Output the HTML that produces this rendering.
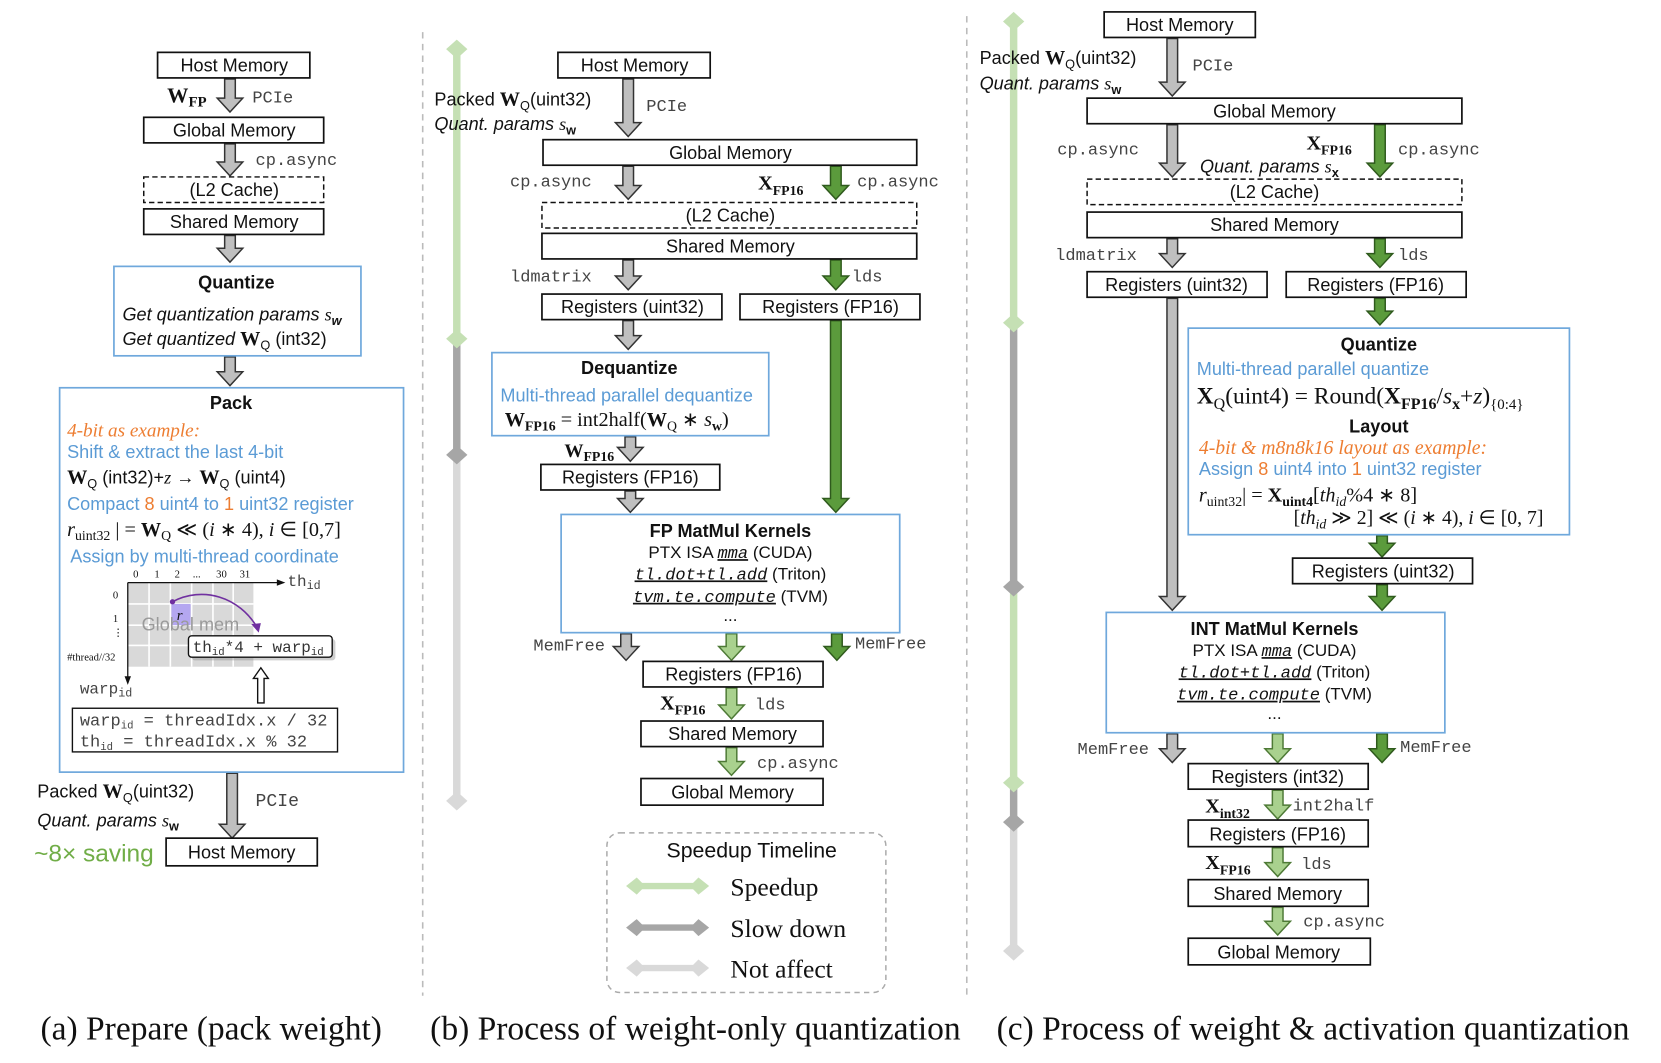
<!DOCTYPE html>
<html><head><meta charset="utf-8">
<style>
html,body{margin:0;padding:0;background:#fff;}
svg{display:block;font-size:17px;}
.b{fill:#fff;stroke:#111;stroke-width:1.6;}
.bd{fill:#fff;stroke:#111;stroke-width:1.4;stroke-dasharray:5,3;}
.bl{fill:#fff;stroke:#6fa8dc;stroke-width:1.6;}
.t{font-family:"Liberation Sans",sans-serif;fill:#111;text-anchor:middle;}
.m{font-family:"Liberation Mono",monospace;fill:#444;}
.m:not([font-size]){font-size:16px;}
.s{font-family:"Liberation Sans",sans-serif;fill:#111;}
.sr{font-family:"Liberation Serif",serif;fill:#111;}
.h{font-family:"Liberation Sans",sans-serif;font-weight:bold;fill:#111;text-anchor:middle;}
.blue{fill:#5b9bd5;}
.or{fill:#ed7d31;}
.cap{font-family:"Liberation Serif",serif;font-size:31.5px;fill:#111;}
</style></head><body>
<svg width="1661" height="1063" viewBox="0 0 1560 998" xmlns="http://www.w3.org/2000/svg">
<g id="arrows"></g>
<line x1="397" y1="30" x2="397" y2="935" stroke="#bbb" stroke-width="1.5" stroke-dasharray="6,5"/>
<line x1="908" y1="15" x2="908" y2="935" stroke="#bbb" stroke-width="1.5" stroke-dasharray="6,5"/>

<!-- ===== Panel A ===== -->
<rect class="b" x="148" y="49" width="143" height="24"/><text class="t" x="220" y="67">Host Memory</text>
<text class="sr" x="157" y="96" style="font-weight:bold;font-size:20px">W<tspan dy="4" font-size="14">FP</tspan></text>
<text class="m" x="237" y="96">PCIe</text>
<rect class="b" x="135" y="110" width="169" height="24"/><text class="t" x="220" y="128">Global Memory</text>
<text class="m" x="240" y="155">cp.async</text>
<rect class="bd" x="135" y="166" width="169" height="24"/><text class="t" x="220" y="184">(L2 Cache)</text>
<rect class="b" x="135" y="196" width="169" height="24"/><text class="t" x="220" y="214">Shared Memory</text>
<rect class="bl" x="107" y="250" width="232" height="84"/>
<text class="h" x="222" y="271">Quantize</text>
<text class="s" x="115" y="301" font-style="italic">Get quantization params <tspan font-family="Liberation Serif">s</tspan><tspan dy="4" font-size="12" font-weight="bold">w</tspan></text>
<text class="s" x="115" y="324"><tspan font-style="italic">Get quantized </tspan><tspan font-family="Liberation Serif" font-weight="bold" font-size="19">W</tspan><tspan dy="4" font-size="12">Q</tspan><tspan dy="-4"> (int32)</tspan></text>
<rect class="bl" x="56" y="364" width="323" height="361"/>
<text class="h" x="217" y="384">Pack</text>
<text class="sr or" x="63" y="410" font-style="italic" font-size="18">4-bit as example:</text>
<text class="s blue" x="63" y="430">Shift &amp; extract the last 4-bit</text>
<text class="s" x="63" y="454"><tspan font-family="Liberation Serif" font-weight="bold" font-size="19">W</tspan><tspan dy="4" font-size="12">Q</tspan><tspan dy="-4"> (int32)+</tspan><tspan font-family="Liberation Serif" font-style="italic">z</tspan> → <tspan font-family="Liberation Serif" font-weight="bold" font-size="19">W</tspan><tspan dy="4" font-size="12">Q</tspan><tspan dy="-4"> (uint4)</tspan></text>
<text class="s blue" x="63" y="479">Compact <tspan class="or">8</tspan> uint4 to <tspan class="or">1</tspan> uint32 register</text>
<text class="sr" x="63" y="503" font-size="19"><tspan font-style="italic">r</tspan><tspan dy="4" font-size="13">uint32</tspan><tspan dy="-4"> | = </tspan><tspan font-weight="bold">W</tspan><tspan dy="4" font-size="13">Q</tspan><tspan dy="-4"> ≪ (</tspan><tspan font-style="italic">i</tspan> ∗ 4), <tspan font-style="italic">i</tspan> ∈ [0,7]</text>
<text class="s blue" x="66" y="528">Assign by multi-thread coordinate</text>
<rect x="120" y="547" width="118" height="79" fill="#d9d9d9"/>
<g stroke="#fff" stroke-width="1.5">
<line x1="140" y1="547" x2="140" y2="626"/><line x1="160" y1="547" x2="160" y2="626"/><line x1="180" y1="547" x2="180" y2="626"/><line x1="200" y1="547" x2="200" y2="626"/><line x1="219" y1="547" x2="219" y2="626"/>
<line x1="120" y1="567" x2="238" y2="567"/><line x1="120" y1="587" x2="238" y2="587"/><line x1="120" y1="606" x2="238" y2="606"/>
</g>
<rect x="161" y="567" width="18" height="20" fill="#b4a7f0"/>
<text class="sr" x="166" y="582" font-style="italic" font-size="14">r</text>
<text class="s" x="133" y="592" style="fill:#9a9a9a">Global mem</text>
<line x1="120" y1="547" x2="262" y2="547" stroke="#111" stroke-width="1.2"/><polygon points="268,547 260,544 260,550" fill="#111"/>
<line x1="120" y1="547" x2="120" y2="637" stroke="#111" stroke-width="1.2"/><polygon points="120,643 117,635 123,635" fill="#111"/>
<g class="sr" font-size="10"><text x="125" y="542">0</text><text x="145" y="542">1</text><text x="164" y="542">2</text><text x="181" y="542">...</text><text x="203" y="542">30</text><text x="225" y="542">31</text>
<text x="106" y="562">0</text><text x="106" y="584">1</text><text x="106" y="597">⋮</text><text x="63" y="620">#thread//32</text></g>
<text class="m" x="270" y="550" font-size="15">th<tspan dy="3" font-size="11">id</tspan></text>
<text class="m" x="75" y="651" font-size="15">warp<tspan dy="3" font-size="11">id</tspan></text>
<circle cx="162" cy="565" r="2.5" fill="#7030a0"/>
<path d="M162,565 C190,550 225,560 242,590" fill="none" stroke="#7030a0" stroke-width="1.5"/>
<polygon points="243,594 236,586 245,585" fill="#7030a0"/>
<rect x="180" y="600" width="135" height="20" rx="3" fill="#888" opacity="0.4"/>
<rect x="177" y="597" width="135" height="20" rx="3" fill="#fff" stroke="#111" stroke-width="1.3"/>
<text class="m" x="181" y="612" font-size="15" style="fill:#333">th<tspan dy="3" font-size="10">id</tspan><tspan dy="-3">*4 + warp</tspan><tspan dy="3" font-size="10">id</tspan></text>
<path d="M242,660 V637 H238 L245,627 L252,637 H248 V660 Z" fill="#fff" stroke="#111" stroke-width="1.3"/>
<rect x="68" y="665" width="249" height="41" fill="#fff" stroke="#111" stroke-width="1.3"/>
<text class="m" x="75" y="681">warp<tspan dy="3" font-size="10">id</tspan><tspan dy="-3"> = threadIdx.x / 32</tspan></text>
<text class="m" x="75" y="701">th<tspan dy="3" font-size="10">id</tspan><tspan dy="-3"> = threadIdx.x % 32</tspan></text>
<text class="s" x="35" y="749">Packed <tspan font-family="Liberation Serif" font-weight="bold" font-size="19">W</tspan><tspan dy="4" font-size="12">Q</tspan><tspan dy="-4">(uint32)</tspan></text>
<text class="s" x="35" y="776" font-style="italic">Quant. params <tspan font-family="Liberation Serif">s</tspan><tspan dy="4" font-size="12" font-weight="bold" font-style="normal">w</tspan></text>
<text class="m" x="240" y="757" font-size="17">PCIe</text>
<text class="s" x="32" y="809" font-size="23" style="fill:#70ad47">~8× saving</text>
<rect class="b" x="156" y="787" width="142" height="26"/><text class="t" x="227" y="806">Host Memory</text>
<text class="cap" x="38" y="976">(a) Prepare (pack weight)</text>

<!-- ===== Panel B ===== -->
<line x1="429" y1="45" x2="429" y2="318" stroke="#c5e0b4" stroke-width="7"/>
<line x1="429" y1="318" x2="429" y2="427" stroke="#a6a6a6" stroke-width="7"/>
<line x1="429" y1="427" x2="429" y2="752" stroke="#d9d9d9" stroke-width="7"/>
<polygon points="429,37 439,46 429,55 419,46" fill="#c5e0b4"/>
<polygon points="429,309 439,318 429,327 419,318" fill="#c5e0b4"/>
<polygon points="429,418 439,427 429,436 419,427" fill="#a6a6a6"/>
<polygon points="429,743 439,752 429,761 419,752" fill="#d9d9d9"/>

<rect class="b" x="524" y="49" width="143" height="24"/><text class="t" x="596" y="67">Host Memory</text>
<text class="s" x="408" y="99">Packed <tspan font-family="Liberation Serif" font-weight="bold" font-size="19">W</tspan><tspan dy="4" font-size="12">Q</tspan><tspan dy="-4">(uint32)</tspan></text>
<text class="s" x="408" y="122" font-style="italic">Quant. params <tspan font-family="Liberation Serif">s</tspan><tspan dy="4" font-size="12" font-weight="bold" font-style="normal">w</tspan></text>
<text class="m" x="607" y="104">PCIe</text>
<rect class="b" x="510" y="131" width="351" height="24"/><text class="t" x="686" y="149">Global Memory</text>
<text class="m" x="479" y="175">cp.async</text>
<text class="sr" x="712" y="178" font-weight="bold" font-size="19">X<tspan dy="5" font-size="13">FP16</tspan></text>
<text class="m" x="805" y="175">cp.async</text>
<rect class="bd" x="509" y="190" width="352" height="24"/><text class="t" x="686" y="208">(L2 Cache)</text>
<rect class="b" x="509" y="219" width="352" height="24"/><text class="t" x="686" y="237">Shared Memory</text>
<text class="m" x="479" y="264">ldmatrix</text>
<text class="m" x="800" y="264">lds</text>
<rect class="b" x="509" y="276" width="169" height="24"/><text class="t" x="594" y="294">Registers (uint32)</text>
<rect class="b" x="695" y="276" width="169" height="24"/><text class="t" x="780" y="294">Registers (FP16)</text>
<rect class="bl" x="462" y="331" width="260" height="78"/>
<text class="h" x="591" y="351">Dequantize</text>
<text class="s blue" x="470" y="377">Multi-thread parallel dequantize</text>
<text class="sr" x="474" y="400" font-size="19"><tspan font-weight="bold">W</tspan><tspan dy="4" font-size="13" font-weight="bold">FP16</tspan><tspan dy="-4"> = int2half(</tspan><tspan font-weight="bold">W</tspan><tspan dy="4" font-size="13">Q</tspan><tspan dy="-4"> ∗ </tspan><tspan font-style="italic">s</tspan><tspan dy="4" font-size="13" font-weight="bold">w</tspan><tspan dy="-4">)</tspan></text>
<text class="sr" x="530" y="429" font-weight="bold" font-size="18">W<tspan dy="4" font-size="13">FP16</tspan></text>
<rect class="b" x="508" y="436" width="168" height="24"/><text class="t" x="592" y="454">Registers (FP16)</text>
<rect class="bl" x="527" y="483" width="318" height="111"/>
<text class="h" x="686" y="504">FP MatMul Kernels</text>
<text class="t" x="686" y="524" font-size="16">PTX ISA  <tspan font-family="Liberation Mono" font-style="italic" text-decoration="underline">mma</tspan> (CUDA)</text>
<text class="t" x="686" y="544" font-size="16"><tspan font-family="Liberation Mono" font-style="italic" text-decoration="underline">tl.dot+tl.add</tspan>  (Triton)</text>
<text class="t" x="686" y="565" font-size="16"><tspan font-family="Liberation Mono" font-style="italic" text-decoration="underline">tvm.te.compute</tspan> (TVM)</text>
<text class="t" x="686" y="583" font-size="16">...</text>
<text class="m" x="501" y="611">MemFree</text>
<text class="m" x="803" y="609">MemFree</text>
<rect class="b" x="604" y="621" width="169" height="24"/><text class="t" x="689" y="639">Registers (FP16)</text>
<text class="sr" x="620" y="666" font-weight="bold" font-size="19">X<tspan dy="5" font-size="13">FP16</tspan></text>
<text class="m" x="709" y="666">lds</text>
<rect class="b" x="602" y="677" width="171" height="24"/><text class="t" x="688" y="695">Shared Memory</text>
<text class="m" x="711" y="721">cp.async</text>
<rect class="b" x="602" y="731" width="171" height="25"/><text class="t" x="688" y="750">Global Memory</text>
<rect x="570" y="782" width="262" height="150" rx="12" fill="none" stroke="#aaa" stroke-width="1.4" stroke-dasharray="5,4"/>
<text class="t" x="706" y="805" font-size="20">Speedup Timeline</text>
<g>
<line x1="596" y1="832" x2="658" y2="832" stroke="#c5e0b4" stroke-width="6"/><polygon points="588,832 598,824 606,832 598,840" fill="#c5e0b4"/><polygon points="648,832 656,824 666,832 656,840" fill="#c5e0b4"/>
<line x1="596" y1="871" x2="658" y2="871" stroke="#a6a6a6" stroke-width="6"/><polygon points="588,871 598,863 606,871 598,879" fill="#a6a6a6"/><polygon points="648,871 656,863 666,871 656,879" fill="#a6a6a6"/>
<line x1="596" y1="909" x2="658" y2="909" stroke="#d9d9d9" stroke-width="6"/><polygon points="588,909 598,901 606,909 598,917" fill="#d9d9d9"/><polygon points="648,909 656,901 666,909 656,917" fill="#d9d9d9"/>
</g>
<text class="sr" x="686" y="841" font-size="24">Speedup</text>
<text class="sr" x="686" y="880" font-size="24">Slow down</text>
<text class="sr" x="686" y="918" font-size="24">Not affect</text>
<text class="cap" x="404" y="976">(b) Process of weight-only quantization</text>

<!-- ===== Panel C ===== -->
<line x1="952" y1="20" x2="952" y2="303" stroke="#c5e0b4" stroke-width="7"/>
<line x1="952" y1="303" x2="952" y2="551" stroke="#a6a6a6" stroke-width="7"/>
<line x1="952" y1="551" x2="952" y2="735" stroke="#c5e0b4" stroke-width="7"/>
<line x1="952" y1="735" x2="952" y2="772" stroke="#a6a6a6" stroke-width="7"/>
<line x1="952" y1="772" x2="952" y2="893" stroke="#d9d9d9" stroke-width="7"/>
<polygon points="952,11 962,20 952,29 942,20" fill="#c5e0b4"/>
<polygon points="952,294 962,303 952,312 942,303" fill="#c5e0b4"/>
<polygon points="952,542 962,551 952,560 942,551" fill="#a6a6a6"/>
<polygon points="952,726 962,735 952,744 942,735" fill="#c5e0b4"/>
<polygon points="952,763 962,772 952,781 942,772" fill="#a6a6a6"/>
<polygon points="952,884 962,893 952,902 942,893" fill="#d9d9d9"/>

<rect class="b" x="1037" y="11" width="142" height="24"/><text class="t" x="1108" y="29">Host Memory</text>
<text class="s" x="920" y="60">Packed <tspan font-family="Liberation Serif" font-weight="bold" font-size="19">W</tspan><tspan dy="4" font-size="12">Q</tspan><tspan dy="-4">(uint32)</tspan></text>
<text class="s" x="920" y="84" font-style="italic">Quant. params <tspan font-family="Liberation Serif">s</tspan><tspan dy="4" font-size="12" font-weight="bold" font-style="normal">w</tspan></text>
<text class="m" x="1120" y="66">PCIe</text>
<rect class="b" x="1021" y="92" width="352" height="24"/><text class="t" x="1197" y="110">Global Memory</text>
<text class="m" x="993" y="145">cp.async</text>
<text class="sr" x="1227" y="140" font-weight="bold" font-size="19">X<tspan dy="5" font-size="13">FP16</tspan></text>
<text class="s" x="1127" y="162" font-style="italic">Quant. params <tspan font-family="Liberation Serif">s</tspan><tspan dy="4" font-size="12" font-weight="bold" font-style="normal">x</tspan></text>
<text class="m" x="1313" y="145">cp.async</text>
<rect class="bd" x="1021" y="168" width="352" height="24"/><text class="t" x="1197" y="186">(L2 Cache)</text>
<rect class="b" x="1021" y="199" width="352" height="24"/><text class="t" x="1197" y="217">Shared Memory</text>
<text class="m" x="991" y="244">ldmatrix</text>
<text class="m" x="1313" y="244">lds</text>
<rect class="b" x="1021" y="255" width="169" height="24"/><text class="t" x="1105" y="273">Registers (uint32)</text>
<rect class="b" x="1208" y="255" width="169" height="24"/><text class="t" x="1292" y="273">Registers (FP16)</text>
<rect class="bl" x="1116" y="308" width="358" height="194"/>
<text class="h" x="1295" y="329">Quantize</text>
<text class="s blue" x="1124" y="352">Multi-thread parallel quantize</text>
<text class="sr" x="1124" y="379" font-size="22"><tspan font-weight="bold">X</tspan><tspan dy="5" font-size="15">Q</tspan><tspan dy="-5">(uint4) = Round(</tspan><tspan font-weight="bold">X</tspan><tspan dy="5" font-size="15" font-weight="bold">FP16</tspan><tspan dy="-5">/</tspan><tspan font-style="italic">s</tspan><tspan dy="5" font-size="15" font-weight="bold">x</tspan><tspan dy="-5">+</tspan><tspan font-style="italic">z</tspan>)<tspan dy="5" font-size="14">{0:4}</tspan></text>
<text class="h" x="1295" y="406">Layout</text>
<text class="sr or" x="1126" y="426" font-style="italic" font-size="18.5">4-bit &amp; m8n8k16 layout as example:</text>
<text class="s blue" x="1126" y="446">Assign <tspan class="or">8</tspan> uint4 into <tspan class="or">1</tspan> uint32 register</text>
<text class="sr" x="1126" y="471" font-size="19"><tspan font-style="italic">r</tspan><tspan dy="4" font-size="13">uint32</tspan><tspan dy="-4">| = </tspan><tspan font-weight="bold">X</tspan><tspan dy="4" font-size="13" font-weight="bold">uint4</tspan><tspan dy="-4">[</tspan><tspan font-style="italic">th</tspan><tspan dy="4" font-size="13" font-style="italic">id</tspan><tspan dy="-4">%4 ∗ 8]</tspan></text>
<text class="sr" x="1215" y="492" font-size="18.5">[<tspan font-style="italic">th</tspan><tspan dy="4" font-size="13" font-style="italic">id</tspan><tspan dy="-4"> ≫ 2] ≪ (</tspan><tspan font-style="italic">i</tspan> ∗ 4), <tspan font-style="italic">i</tspan> ∈ [0, 7]</text>
<rect class="b" x="1214" y="524" width="169" height="24"/><text class="t" x="1299" y="542">Registers (uint32)</text>
<rect class="bl" x="1039" y="575" width="318" height="113"/>
<text class="h" x="1197" y="596">INT MatMul Kernels</text>
<text class="t" x="1197" y="616" font-size="16">PTX ISA  <tspan font-family="Liberation Mono" font-style="italic" text-decoration="underline">mma</tspan> (CUDA)</text>
<text class="t" x="1197" y="636" font-size="16"><tspan font-family="Liberation Mono" font-style="italic" text-decoration="underline">tl.dot+tl.add</tspan>  (Triton)</text>
<text class="t" x="1197" y="657" font-size="16"><tspan font-family="Liberation Mono" font-style="italic" text-decoration="underline">tvm.te.compute</tspan> (TVM)</text>
<text class="t" x="1197" y="675" font-size="16">...</text>
<text class="m" x="1012" y="708">MemFree</text>
<text class="m" x="1315" y="706">MemFree</text>
<rect class="b" x="1116" y="717" width="169" height="24"/><text class="t" x="1200" y="735">Registers (int32)</text>
<text class="sr" x="1132" y="763" font-weight="bold" font-size="19">X<tspan dy="5" font-size="13">int32</tspan></text>
<text class="m" x="1214" y="761">int2half</text>
<rect class="b" x="1116" y="770" width="169" height="25"/><text class="t" x="1200" y="789">Registers (FP16)</text>
<text class="sr" x="1132" y="816" font-weight="bold" font-size="19">X<tspan dy="5" font-size="13">FP16</tspan></text>
<text class="m" x="1222" y="816">lds</text>
<rect class="b" x="1116" y="826" width="169" height="25"/><text class="t" x="1200" y="845">Shared Memory</text>
<text class="m" x="1224" y="870">cp.async</text>
<rect class="b" x="1116" y="881" width="171" height="25"/><text class="t" x="1201" y="900">Global Memory</text>
<text class="cap" x="936" y="976">(c) Process of weight &amp; activation quantization</text>
</svg>
<script>
var A=[
[216,74,105,'g'],[216,135,165,'g'],[216,221,246,'g'],[216,335,362,'g'],[218,726,787,'g'],
[590,74,128,'g'],[590,156,187,'g'],[785,156,187,'d'],[590,244,272,'g'],[785,244,272,'d'],
[590,301,328,'g'],[785,301,481,'d'],[592,410,433,'g'],[592,461,481,'g'],
[588,595,620,'g'],[687,595,620,'l'],[786,595,620,'d'],[687,646,675,'l'],[687,702,728,'l'],
[1101,36,90,'g'],[1101,117,166,'g'],[1296,117,166,'d'],[1101,224,251,'g'],[1296,224,251,'d'],
[1296,280,305,'d'],[1101,280,573,'g'],[1298,503,523,'d'],[1298,549,573,'d'],
[1101,689,716,'g'],[1200,689,716,'l'],[1298,689,716,'d'],[1200,742,769,'l'],[1200,796,823,'l'],[1200,852,878,'l']
];
var C={g:['#bfbfbf','#333'],d:['#5b9b3c','#2f5a1d'],l:['#a9d18e','#4e7a36']};
var s='';
A.forEach(function(a){var x=a[0],y1=a[1],y2=a[2],c=C[a[3]],h=y2-13;
s+='<path d="M'+(x-5)+','+y1+' V'+h+' H'+(x-12)+' L'+x+','+y2+' L'+(x+12)+','+h+' H'+(x+5)+' V'+y1+' Z" fill="'+c[0]+'" stroke="'+c[1]+'" stroke-width="1.4"/>';});
document.getElementById('arrows').innerHTML=s;
</script>
</body></html>
